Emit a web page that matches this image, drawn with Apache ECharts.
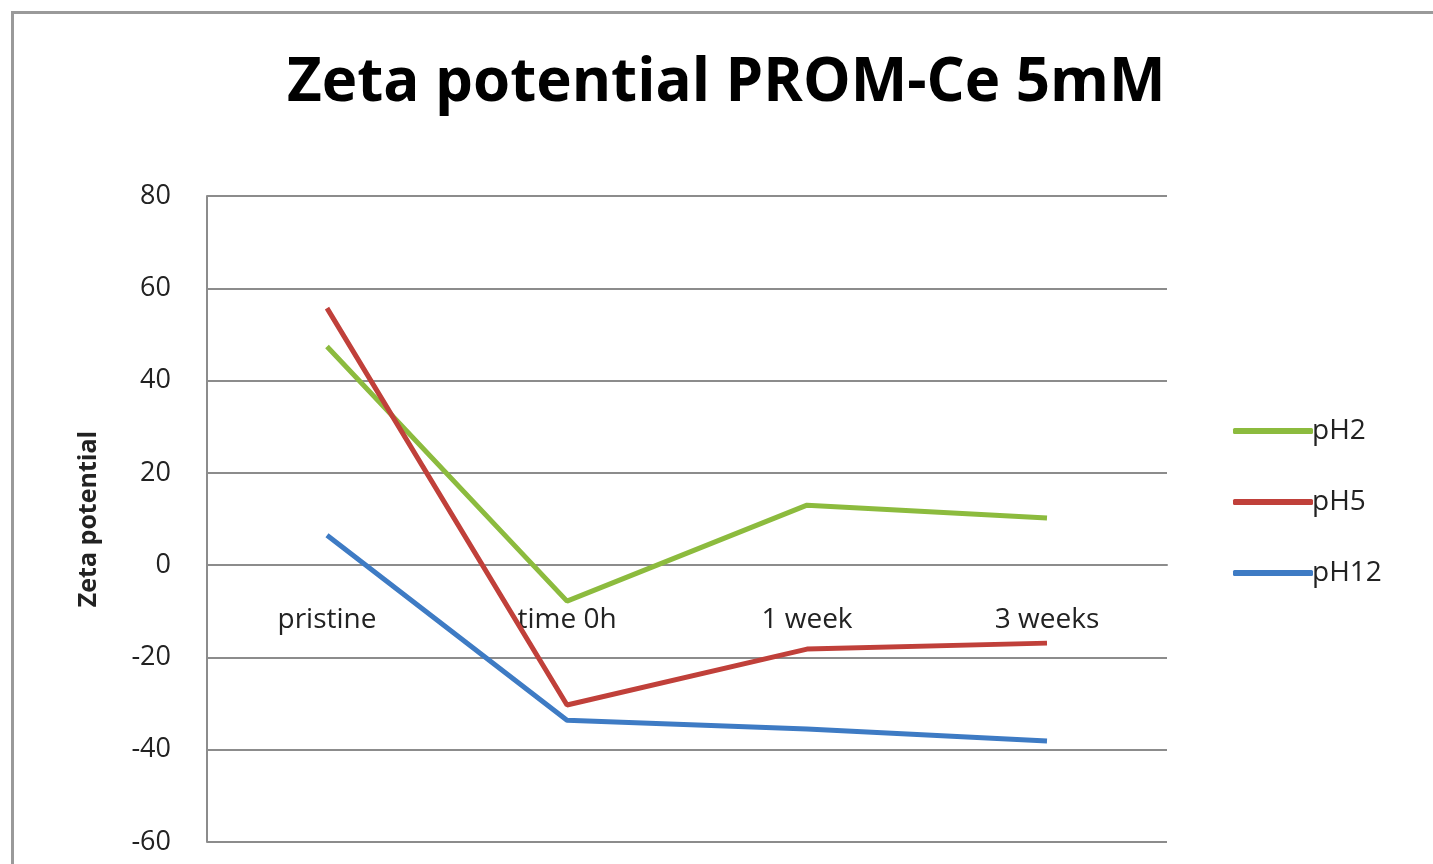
<!DOCTYPE html>
<html>
<head>
<meta charset="utf-8">
<script src="https://cdn.jsdelivr.net/npm/echarts@6/dist/echarts.min.js"></script>
<style>
html, body { margin: 0; padding: 0; background: #fff; }
#chart { width: 1433px; height: 864px; }
</style>
</head>
<body>
<div id="chart"></div>
<script>
// categories and series
var categories = ['pristine', 'time 0h', '1 week', '3 weeks'];
var pH2 = [47.4, -7.8, 13.0, 10.2];
var pH5 = [55.7, -30.3, -18.2, -16.9];
var pH12 = [6.5, -33.6, -35.5, -38.1];
var seriesNames = ['pH2', 'pH5', 'pH12'];
var colors = ['#8CBB3E', '#C0403A', '#3E7BC4'];

var myChart = echarts.init(document.getElementById('chart'));

function makeLine(name, data, color) {
    return {
        name: name,
        type: 'line',
        data: data,
        symbol: 'none',
        lineStyle: { width: 5, color: color },
        itemStyle: { color: color }
    };
}

var option = {
    animation: false,
    backgroundColor: '#fff',
    graphic: [{
        type: 'rect',
        left: 10, top: 10,
        shape: { width: 1500, height: 1000 },
        style: { fill: 'none', stroke: '#9a9a9a', lineWidth: 3 }
    }],
    title: {
        text: 'Zeta potential PROM-Ce 5mM',
        left: 282,
        top: 49,
        textStyle: { fontFamily: 'Open Sans', fontWeight: 'bold', fontSize: 60, color: '#000' }
    },
    legend: {
        orient: 'vertical',
        left: 1228,
        top: 412,
        itemWidth: 80,
        itemHeight: 6,
        itemGap: 43,
        icon: 'roundRect',
        data: seriesNames,
        textStyle: { fontFamily: 'Open Sans', fontSize: 28, color: '#222', padding: [0, 0, 0, -6] }
    },
    grid: { left: 207, right: 266, top: 196, bottom: 22, outerBoundsMode: 'none', containLabel: false },
    xAxis: {
        type: 'category',
        data: categories,
        boundaryGap: true,
        axisLine: { show: true, onZero: true, lineStyle: { color: '#8c8c8c', width: 2 } },
        axisTick: { show: false },
        // labels sit just under the zero line, as in the original
        axisLabel: { fontFamily: 'Open Sans', fontSize: 28, color: '#222', margin: -236 }
    },
    yAxis: {
        type: 'value',
        min: -60, max: 80, interval: 20,
        name: 'Zeta potential',
        nameLocation: 'middle',
        nameGap: 106,
        nameTextStyle: { fontFamily: 'Open Sans', fontWeight: 'bold', fontSize: 25, color: '#222' },
        axisLine: { show: true, lineStyle: { color: '#8c8c8c', width: 2 } },
        axisTick: { show: false },
        axisLabel: { fontFamily: 'Open Sans', fontSize: 27, color: '#222', margin: 36 },
        splitLine: { lineStyle: { color: '#8c8c8c', width: 2 } }
    },
    series: [
        makeLine(seriesNames[0], pH2, colors[0]),
        makeLine(seriesNames[1], pH5, colors[1]),
        makeLine(seriesNames[2], pH12, colors[2])
    ]
};
myChart.setOption(option);
</script>
</body>
</html>
